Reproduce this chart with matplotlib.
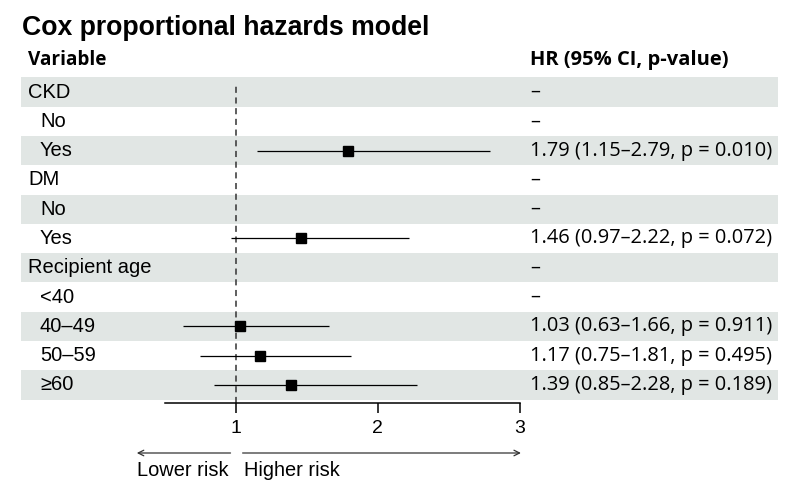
import numpy as np
import matplotlib
matplotlib.use("Agg")
import matplotlib.pyplot as plt
from matplotlib.patches import Rectangle
from matplotlib.transforms import blended_transform_factory

# table rows
labels = ["CKD", "No", "Yes", "DM", "No", "Yes", "Recipient age",
          "<40", "40–49", "50–59", "≥60"]
indent = [0, 1, 1, 0, 1, 1, 0, 1, 1, 1, 1]
hr = [np.nan, np.nan, 1.79, np.nan, np.nan, 1.46, np.nan, np.nan, 1.03, 1.17, 1.39]
lo = [np.nan, np.nan, 1.15, np.nan, np.nan, 0.97, np.nan, np.nan, 0.63, 0.75, 0.85]
hi = [np.nan, np.nan, 2.79, np.nan, np.nan, 2.22, np.nan, np.nan, 1.66, 1.81, 2.28]
pvals = ["", "", "0.010", "", "", "0.072", "", "", "0.911", "0.495", "0.189"]
shaded = [1, 0, 1, 0, 1, 0, 1, 0, 1, 0, 1]
ticks = [1, 2, 3]

W, H = 800, 495
fig = plt.figure(figsize=(8, 4.95), dpi=100)
ax = fig.add_axes([164.5 / W, (H - 403) / H, 355 / W, (403 - 77.35) / H])

n = len(labels)
y = np.arange(n)
ax.set_xlim(0.5, 3)
ax.set_ylim(n - 0.5 + (403 - 399.65) / 29.3, -0.5)

trans = blended_transform_factory(fig.transFigure, ax.transData)
band = "#e1e6e4"
for i in range(n):
    if shaded[i]:
        ax.add_patch(Rectangle((21 / W, i - 0.5), (778 - 21) / W, 1,
                               transform=trans, facecolor=band,
                               edgecolor="none", zorder=0, clip_on=False))

lab_font = "Liberation Sans"
num_font = "Open Sans"
for i in range(n):
    x0 = (28 + 12 * indent[i]) / W
    ax.text(x0, i, labels[i], transform=trans, ha="left", va="center",
            fontsize=14.5, family=lab_font)
    if np.isnan(hr[i]):
        s = "–"
    else:
        s = "%.2f (%.2f–%.2f, p = %s)" % (hr[i], lo[i], hi[i], pvals[i])
    ax.text(530 / W, i, s, transform=trans, ha="left", va="center",
            fontsize=14.4, family=num_font)

ax.axvline(1, ymin=0, ymax=(403 - 83) / 325.65, color="#333333", lw=1.1,
           ls=(0, (4, 3)), zorder=1)
ax.hlines(y, lo, hi, color="black", lw=0.9, zorder=2)
ax.plot(hr, y, "s", color="black", markersize=7, zorder=3)

for s in ["top", "right", "left"]:
    ax.spines[s].set_visible(False)
ax.spines["bottom"].set_linewidth(1.1)
ax.patch.set_visible(False)
ax.set_yticks([])
ax.set_xticks(ticks)
ax.set_xticklabels([str(t) for t in ticks], family=lab_font, fontsize=14)
ax.tick_params(axis="x", length=7.5, width=1.1, pad=5)

# arrows
ya = -50 / 325.65
yt = -67 / 325.65
at = blended_transform_factory(ax.transData, ax.transAxes)
ax.annotate("", xy=(0.305, ya), xytext=(0.965, ya), xycoords=at, textcoords=at,
            arrowprops=dict(arrowstyle="->", lw=0.9, color="#333333",
                            shrinkA=0, shrinkB=0), annotation_clip=False)
ax.annotate("", xy=(3.01, ya), xytext=(1.05, ya), xycoords=at, textcoords=at,
            arrowprops=dict(arrowstyle="->", lw=0.9, color="#333333",
                            shrinkA=0, shrinkB=0), annotation_clip=False)
ax.text(0.95, yt, "Lower risk", transform=at, ha="right", va="center",
        fontsize=14.4, family=lab_font)
ax.text(1.06, yt, "Higher risk", transform=at, ha="left", va="center",
        fontsize=14.4, family=lab_font)

fig.text(22 / W, 1 - 28 / H, "Cox proportional hazards model", ha="left",
         va="center", fontsize=19.2, fontweight="bold", family=lab_font)
fig.text(28 / W, 1 - 60 / H, "Variable", ha="left", va="center",
         fontsize=13.7, fontweight="bold", family=num_font)
fig.text(530 / W, 1 - 60 / H, "HR (95% CI, p-value)", ha="left", va="center",
         fontsize=14.5, fontweight="bold", family=num_font)

fig.savefig("out.png", dpi=100)
